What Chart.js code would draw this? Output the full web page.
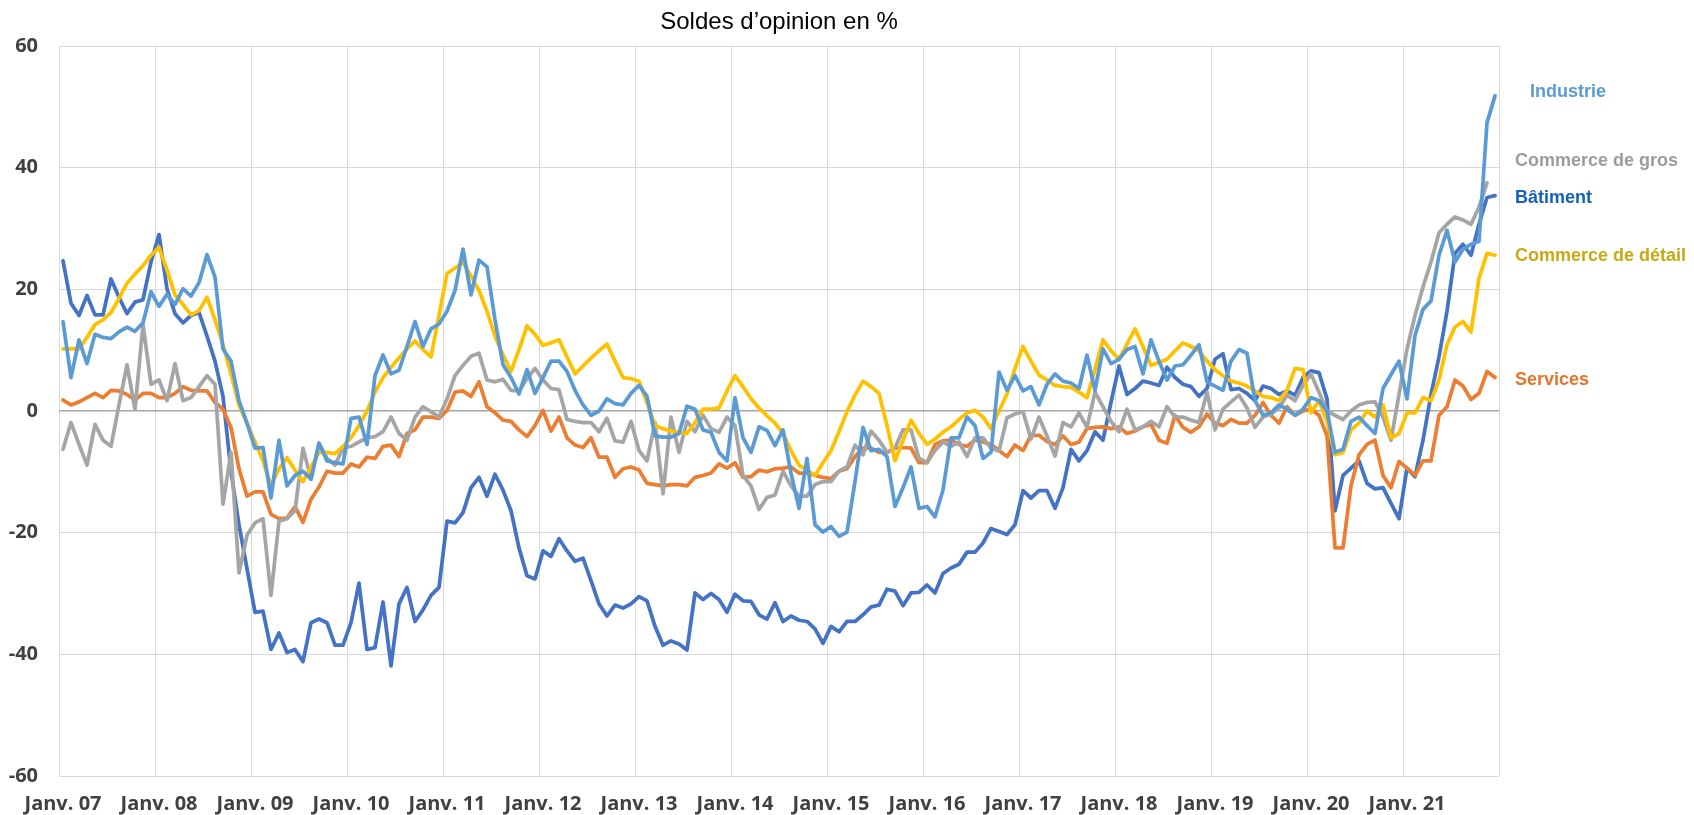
<!DOCTYPE html>
<html>
<head>
<meta charset="utf-8">
<title>Soldes d'opinion</title>
<script src="https://cdn.jsdelivr.net/npm/chart.js@4.4.1/dist/chart.umd.min.js"></script>
<style>
  html, body { margin: 0; padding: 0; background: #ffffff; }
  #wrap { width: 1694px; height: 815px; }
</style>
</head>
<body>
<div id="wrap"><canvas id="opinion-chart" width="1694" height="815"></canvas></div>
<script>
const chartTitle = "Soldes d’opinion en %";

// axe des x : un point par mois, janv. 2007 -> déc. 2021
const yearTicks = ['Janv. 07','Janv. 08','Janv. 09','Janv. 10','Janv. 11','Janv. 12','Janv. 13',
  'Janv. 14','Janv. 15','Janv. 16','Janv. 17','Janv. 18','Janv. 19','Janv. 20','Janv. 21'];
const months = [];
for (let y = 2007; y <= 2021; y++) {
  for (let m = 1; m <= 12; m++) months.push(y + '-' + String(m).padStart(2, '0'));
}

const industrie = [
  14.7, 5.5, 11.7, 7.8, 12.6, 12.1, 11.9, 13.0, 13.8, 13.1,
  14.5, 19.6, 17.2, 19.2, 17.5, 20.1, 18.9, 21.1, 25.7, 22.0,
  10.2, 8.2, 1.7, -2.0, -6.1, -6.0, -14.3, -4.8, -12.3, -10.6,
  -9.9, -11.2, -5.3, -8.2, -8.5, -8.7, -1.2, -1.0, -5.5, 5.8,
  9.2, 6.1, 6.7, 10.6, 14.7, 10.6, 13.5, 14.3, 16.4, 19.8,
  26.6, 19.1, 24.8, 23.7, 15.0, 7.6, 5.5, 2.8, 6.8, 2.9,
  5.5, 8.2, 8.2, 6.5, 3.4, 1.0, -0.7, 0.0, 2.0, 1.2,
  1.0, 2.9, 4.2, 2.4, -4.1, -4.3, -4.3, -3.7, 0.8, 0.3,
  -3.1, -3.5, -6.8, -8.2, 2.2, -4.4, -6.8, -2.6, -3.2, -5.7,
  -3.1, -10.2, -16.0, -7.8, -18.7, -19.9, -19.0, -20.6, -19.9, -11.6,
  -2.7, -6.5, -6.3, -7.5, -15.7, -12.6, -9.2, -16.0, -15.7, -17.4,
  -13.0, -4.4, -4.4, -1.0, -2.4, -7.8, -6.8, 6.4, 3.4, 5.8,
  3.3, 4.0, 1.0, 4.4, 6.1, 4.9, 4.6, 3.7, 9.2, 3.4,
  10.2, 7.8, 8.5, 10.1, 10.6, 6.1, 11.7, 8.2, 5.1, 7.4,
  7.6, 9.2, 10.9, 4.8, 4.1, 3.4, 8.2, 10.1, 9.5, 1.7,
  -0.7, -0.3, 1.0, 0.3, -0.7, 0.3, 2.2, 1.7, 0.0, -6.8,
  -6.3, -1.7, -1.0, -2.4, -3.7, 3.7, 6.0, 8.2, 2.0, 12.4,
  16.7, 18.1, 25.6, 29.7, 24.5, 26.6, 27.4, 27.9, 47.4, 51.8
];

const commerceGros = [
  -6.3, -1.9, -5.5, -8.9, -2.2, -4.8, -5.8, 1.0, 7.6, 0.3,
  14.2, 4.4, 5.1, 1.7, 7.8, 1.7, 2.2, 4.0, 5.8, 4.4,
  -15.3, -6.8, -26.6, -20.4, -18.4, -17.7, -30.3, -18.1, -17.7, -16.4,
  -6.1, -11.2, -5.3, -7.8, -8.9, -6.1, -5.8, -5.1, -4.4, -4.2,
  -3.4, -1.0, -3.7, -4.8, -1.0, 0.7, -0.1, -1.0, 2.0, 5.8,
  7.5, 9.0, 9.5, 5.1, 4.8, 5.2, 3.4, 3.3, 5.3, 7.0,
  5.1, 3.7, 3.5, -1.4, -1.7, -1.9, -1.9, -3.4, -1.2, -4.9,
  -5.1, -1.7, -6.5, -8.2, -1.9, -13.6, -1.0, -6.8, -1.7, -3.4,
  -0.7, -2.9, -3.5, -1.0, -2.4, -10.6, -12.3, -16.2, -14.2, -13.8,
  -9.9, -12.3, -14.0, -14.0, -12.1, -11.6, -11.6, -9.9, -9.2, -5.6,
  -7.2, -3.3, -4.8, -6.8, -6.1, -3.1, -3.1, -7.8, -8.5, -6.5,
  -5.1, -5.8, -5.1, -7.5, -4.4, -4.4, -6.1, -6.6, -1.1, -0.5,
  -0.1, -4.6, -1.0, -4.1, -7.4, -1.9, -2.6, -0.3, -2.7, 3.1,
  0.7, -1.7, -3.4, 0.3, -3.1, -2.6, -1.7, -2.6, 0.7, -1.0,
  -1.0, -1.5, -1.9, 3.1, -3.1, 0.3, 1.5, 2.6, 0.5, -2.7,
  -1.0, -0.5, 0.5, 2.6, 1.7, 4.2, 6.1, 3.1, 0.0, -0.7,
  -1.4, 0.0, 1.0, 1.4, 1.5, -1.0, -4.8, 2.7, 10.2, 15.7,
  20.4, 24.5, 29.3, 30.7, 31.9, 31.4, 30.7, 33.5, 37.5, null
];

const batiment = [
  24.7, 17.7, 15.7, 19.0, 15.8, 15.8, 21.7, 18.7, 16.0, 17.9,
  18.3, 24.5, 29.0, 20.1, 16.0, 14.5, 15.7, 16.2, 12.3, 8.2,
  2.4, -9.9, -18.7, -25.9, -33.1, -32.9, -39.2, -36.5, -39.7, -39.2,
  -41.2, -34.8, -34.2, -34.8, -38.5, -38.5, -34.8, -28.3, -39.2, -38.9,
  -31.4, -41.9, -31.7, -29.0, -34.6, -32.7, -30.3, -29.0, -18.1, -18.4,
  -16.7, -12.6, -10.9, -14.0, -10.4, -13.0, -16.4, -22.5, -27.1, -27.6,
  -23.0, -23.9, -21.0, -23.0, -24.7, -24.2, -27.9, -31.7, -33.7, -31.9,
  -32.4, -31.7, -30.5, -31.2, -35.4, -38.5, -37.8, -38.3, -39.3, -29.9,
  -31.0, -30.0, -31.0, -33.1, -30.1, -31.2, -31.3, -33.5, -34.2, -31.5,
  -34.6, -33.7, -34.4, -34.6, -35.8, -38.2, -35.4, -36.3, -34.6, -34.6,
  -33.5, -32.2, -31.9, -29.3, -29.6, -32.0, -29.9, -29.8, -28.6, -29.9,
  -26.7, -25.8, -25.2, -23.2, -23.2, -21.7, -19.3, -19.8, -20.3, -18.7,
  -13.1, -14.3, -13.1, -13.1, -16.0, -12.6, -6.3, -8.2, -6.5, -3.4,
  -4.8, 1.4, 7.4, 2.7, 3.7, 4.9, 4.6, 4.2, 7.2, 5.5,
  4.4, 4.0, 2.4, 3.7, 8.5, 9.4, 3.5, 3.7, 2.9, 1.7,
  4.1, 3.7, 2.7, 3.3, 2.6, 5.5, 6.6, 6.3, 2.0, -16.4,
  -10.6, -9.4, -8.2, -11.9, -12.8, -12.6, -15.2, -17.7, -9.4, -10.8,
  -4.8, 2.7, 8.9, 16.4, 25.9, 27.4, 25.6, 30.7, 35.1, 35.4
];

const commerceDetail = [
  10.2, 10.2, 10.2, 12.1, 14.2, 15.0, 16.2, 18.5, 21.0, 22.5,
  23.9, 25.6, 26.9, 23.2, 19.1, 17.5, 15.8, 16.5, 18.7, 15.0,
  10.9, 6.1, 1.0, -2.0, -5.1, -8.2, -12.3, -9.5, -7.7, -9.7,
  -11.6, -9.2, -6.8, -6.8, -7.0, -5.8, -4.4, -2.4, 0.0, 3.1,
  5.5, 7.2, 8.7, 10.2, 11.5, 10.1, 8.9, 15.7, 22.6, 23.5,
  24.4, 22.2, 19.8, 16.4, 12.3, 9.2, 6.5, 10.1, 14.0, 12.6,
  10.8, 11.2, 11.7, 8.9, 6.1, 7.4, 8.7, 9.9, 11.0, 8.2,
  5.5, 5.3, 4.9, 1.4, -2.4, -2.9, -3.3, -3.5, -3.7, -1.9,
  0.3, 0.3, 0.5, 3.3, 5.8, 4.0, 2.0, 0.5, -0.8, -2.0,
  -3.7, -6.5, -8.9, -9.7, -10.6, -8.5, -6.5, -3.4, -0.1, 2.6,
  4.9, 4.0, 2.9, -2.4, -8.2, -4.8, -1.5, -3.7, -5.5, -4.6,
  -3.5, -2.6, -1.4, -0.3, 0.1, -1.0, -2.9, 0.0, 2.8, 7.0,
  10.6, 8.2, 5.9, 5.1, 4.2, 4.0, 3.9, 3.1, 2.2, 6.8,
  11.7, 9.9, 8.5, 11.0, 13.5, 10.6, 7.5, 8.0, 8.5, 9.9,
  11.2, 10.6, 9.9, 8.2, 6.8, 5.8, 4.9, 4.6, 4.1, 3.3,
  2.4, 2.2, 1.7, 3.4, 7.0, 6.8, -0.3, 1.7, -1.7, -7.2,
  -6.8, -3.1, -2.0, 0.0, -1.0, 1.0, -4.4, -3.7, -0.3, -0.3,
  2.2, 1.7, 5.1, 10.9, 13.8, 14.7, 13.0, 21.8, 25.9, 25.6
];

const services = [
  1.8, 1.0, 1.5, 2.2, 2.9, 2.2, 3.4, 3.3, 2.7, 1.8,
  2.9, 2.9, 2.2, 2.2, 2.9, 4.0, 3.4, 3.3, 3.3, 1.4,
  0.3, -2.7, -9.5, -14.0, -13.3, -13.3, -17.0, -17.7, -17.6, -15.7,
  -18.3, -14.5, -12.5, -9.9, -10.2, -10.2, -8.7, -9.2, -7.6, -7.8,
  -5.8, -5.6, -7.5, -3.7, -3.1, -1.0, -1.0, -1.2, 0.1, 3.1,
  3.3, 2.4, 4.8, 0.7, -0.3, -1.5, -1.7, -3.1, -4.2, -2.4,
  0.1, -3.3, -1.0, -4.4, -5.6, -6.0, -4.4, -7.6, -7.6, -10.9,
  -9.5, -9.2, -9.7, -11.9, -12.1, -12.3, -12.1, -12.1, -12.3, -10.9,
  -10.6, -10.2, -8.7, -9.4, -8.5, -10.9, -10.8, -9.7, -10.0, -9.5,
  -9.4, -9.2, -10.2, -10.2, -10.6, -10.9, -11.1, -9.9, -9.5, -7.5,
  -6.1, -6.1, -6.8, -6.8, -6.1, -6.0, -6.1, -8.5, -8.5, -5.5,
  -4.9, -4.8, -5.5, -5.8, -4.8, -5.1, -5.5, -6.5, -7.5, -5.6,
  -6.5, -4.0, -4.0, -5.0, -5.5, -4.1, -5.5, -5.1, -2.9, -2.7,
  -2.6, -2.9, -2.6, -3.7, -3.3, -2.6, -2.2, -4.8, -5.3, -0.7,
  -2.7, -3.5, -2.6, -0.5, -2.0, -2.4, -1.4, -2.0, -2.0, -0.7,
  1.4, -0.7, -2.0, 0.7, -0.7, 0.0, 0.3, -0.7, -4.1, -22.5,
  -22.5, -12.3, -7.2, -5.5, -4.8, -10.6, -12.6, -8.3, -9.4, -10.6,
  -8.2, -8.2, -0.7, 0.7, 5.1, 4.1, 1.9, 2.9, 6.5, 5.5
];

// étiquettes à droite du graphique (à la place de la légende)
const endLabels = [
  { text: 'Industrie', color: '#5b9bd5', dx: 31, at: 51.6 },
  { text: 'Commerce de gros', color: '#9c9c9c', dx: 16, at: 40.3 },
  { text: 'Bâtiment', color: '#1462b8', dx: 16, at: 34.2 },
  { text: 'Commerce de détail', color: '#c9a912', dx: 16, at: 24.6 },
  { text: 'Services', color: '#e2752c', dx: 16, at: 4.3 }
];

const textsPlugin = {
  id: 'texts',
  afterDraw(chart) {
    const { ctx, chartArea, scales } = chart;
    ctx.save();
    ctx.fillStyle = '#000000';
    ctx.font = '24px "Liberation Sans", Arial, sans-serif';
    ctx.textAlign = 'center';
    ctx.textBaseline = 'alphabetic';
    ctx.fillText(chartTitle, (chartArea.left + chartArea.right) / 2, 29);

    ctx.font = 'bold 18px "Liberation Sans", Arial, sans-serif';
    ctx.textAlign = 'left';
    endLabels.forEach(function(l) {
      ctx.fillStyle = l.color;
      ctx.fillText(l.text, chartArea.right + l.dx, scales.y.getPixelForValue(l.at));
    });
    ctx.restore();
  }
};

const mkLine = function(label, data, color) {
  return {
    label: label,
    data: data,
    borderColor: color,
    backgroundColor: color,
    borderWidth: 3.75,
    pointRadius: 0,
    tension: 0,
    fill: false,
    borderJoinStyle: 'round',
    borderCapStyle: 'round',
    spanGaps: false
  };
};

const tickFont = { family: '"Open Sans", "DejaVu Sans", sans-serif', size: 20, weight: 'bold' };

new Chart(document.getElementById('opinion-chart').getContext('2d'), {
  type: 'line',
  data: {
    labels: months,
    datasets: [
      // le premier jeu est dessiné au-dessus
      mkLine('Industrie', industrie, '#5b9bd5'),
      mkLine('Commerce de détail', commerceDetail, '#ffc000'),
      mkLine('Commerce de gros', commerceGros, '#a5a5a5'),
      mkLine('Services', services, '#ed7d31'),
      mkLine('Bâtiment', batiment, '#4472c4')
    ]
  },
  options: {
    responsive: false,
    devicePixelRatio: 1,
    animation: false,
    layout: { padding: { top: 46, right: 195, bottom: 0, left: 0 } },
    plugins: {
      legend: { display: false },
      tooltip: { enabled: false },
      title: { display: false }
    },
    scales: {
      x: {
        type: 'category',
        offset: true,
        border: { display: false },
        grid: {
          offset: true,
          drawTicks: false,
          lineWidth: 1,
          color: function(c) {
            return (c.index === undefined || c.index % 12 === 0) ? '#d9d9d9' : 'rgba(0,0,0,0)';
          }
        },
        ticks: {
          autoSkip: false,
          maxRotation: 0,
          minRotation: 0,
          padding: 16,
          color: '#404040',
          font: tickFont,
          callback: function(value, index) {
            return index % 12 === 0 ? yearTicks[index / 12] : '';
          }
        },
        afterFit: function(scale) { scale.height = 39; }
      },
      y: {
        min: -60,
        max: 60,
        border: { display: false },
        grid: {
          drawTicks: false,
          color: function(c) { return c.tick && c.tick.value === 0 ? '#a6a6a6' : '#d9d9d9'; },
          lineWidth: function(c) { return c.tick && c.tick.value === 0 ? 1.5 : 1; }
        },
        ticks: {
          stepSize: 20,
          padding: 21,
          color: '#404040',
          font: tickFont
        },
        afterFit: function(scale) { scale.width = 59; }
      }
    }
  },
  plugins: [textsPlugin]
});
</script>
</body>
</html>
